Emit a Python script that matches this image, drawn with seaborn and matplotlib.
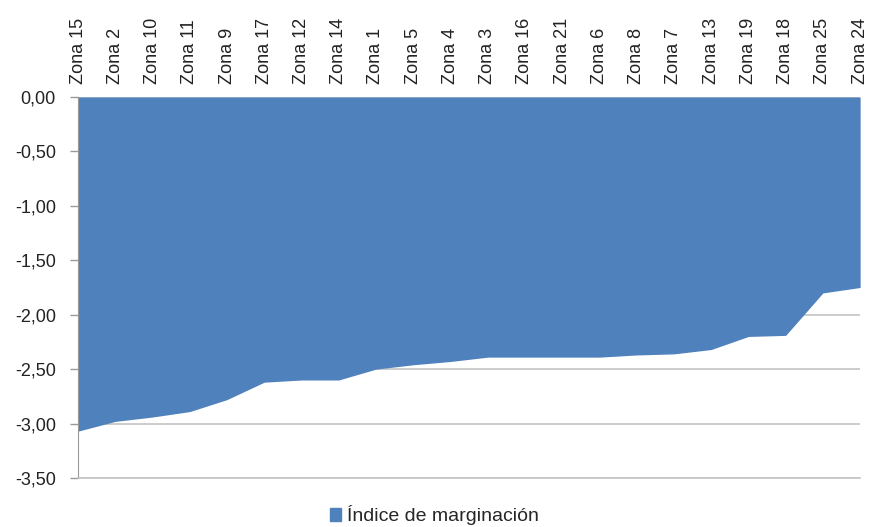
import numpy as np
import pandas as pd
import matplotlib
matplotlib.use("Agg")
import matplotlib.pyplot as plt
import seaborn as sns
from matplotlib.ticker import FuncFormatter
from matplotlib.patches import Patch

# -------- datos --------
zonas = ["Zona 15", "Zona 2", "Zona 10", "Zona 11", "Zona 9", "Zona 17", "Zona 12",
         "Zona 14", "Zona 1", "Zona 5", "Zona 4", "Zona 3", "Zona 16", "Zona 21",
         "Zona 6", "Zona 8", "Zona 7", "Zona 13", "Zona 19", "Zona 18", "Zona 25",
         "Zona 24"]
indice = [-3.07, -2.98, -2.94, -2.89, -2.78, -2.62, -2.60, -2.60, -2.50, -2.46,
          -2.43, -2.39, -2.39, -2.39, -2.39, -2.37, -2.36, -2.32, -2.20, -2.19,
          -1.80, -1.75]
yticks = [0.0, -0.5, -1.0, -1.5, -2.0, -2.5, -3.0, -3.5]
serie = "Índice de marginación"

df = pd.DataFrame({"zona": zonas, "valor": indice})
df["pos"] = np.arange(len(df))

azul = "#4F81BD"
gris = "#c4c4c4"

sns.set_style("white")
plt.rcParams["font.family"] = ["Liberation Sans", "DejaVu Sans"]

fig = plt.figure(figsize=(8.69, 5.27), dpi=100)
ax = fig.add_axes([0.0898, 0.093, 0.9, 0.723])

sns.lineplot(data=df, x="pos", y="valor", color=azul, lw=0, ax=ax)
ax.fill_between(df["pos"], 0, df["valor"], color=azul, lw=0, zorder=2)

ax.set_xlim(0, len(df) - 1)
ax.set_ylim(-3.5, 0)
ax.set_yticks(yticks)
ax.yaxis.set_major_formatter(FuncFormatter(lambda v, p: f"{v:.2f}".replace(".", ",")))
ax.yaxis.grid(True, color=gris, lw=1.2, zorder=0)
ax.set_axisbelow(True)

ax.set_xticks(df["pos"])
ax.set_xticklabels(df["zona"], rotation=90)
ax.xaxis.tick_top()
ax.tick_params(axis="x", length=0, pad=9, labelsize=13, labelcolor="#222222")
ax.tick_params(axis="y", left=True, length=6, width=1, color="#999999", pad=10,
               labelsize=13, labelcolor="#222222")
ax.set_xlabel("")
ax.set_ylabel("")

for s in ["top", "right"]:
    ax.spines[s].set_visible(False)
ax.spines["left"].set_color("#999999")
ax.spines["bottom"].set_color(gris)
ax.spines["bottom"].set_linewidth(1.2)

fig.legend(handles=[Patch(color=azul, label=serie)], loc="center",
           bbox_to_anchor=(0.5, 0.022), frameon=False, fontsize=14,
           handlelength=0.6, handleheight=0.6, handletextpad=0.3)

fig.savefig("out.png", dpi=100)
